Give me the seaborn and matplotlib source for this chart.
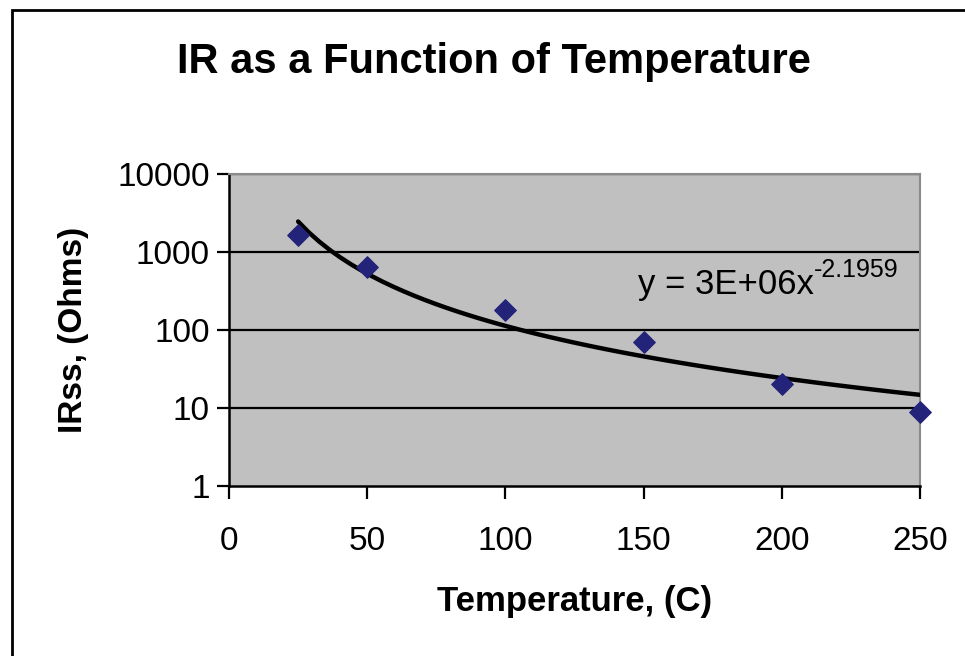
import numpy as np
import pandas as pd
import matplotlib
matplotlib.use("Agg")
import matplotlib.pyplot as plt
import seaborn as sns
from matplotlib.patches import Rectangle

# dados
temperatura = [25, 50, 100, 150, 200, 250]
irss = [1650, 640, 180, 70, 20.5, 8.8]
x_ticks = [0, 50, 100, 150, 200, 250]
y_ticks = [1, 10, 100, 1000, 10000]
y_tick_labels = ["1", "10", "100", "1000", "10000"]
equacao = "y = 3E+06x"
expoente = "-2.1959"

dados = pd.DataFrame({"temp": temperatura, "irss": irss})

# linha de tendência (potência) ajustada em escala log-log
b, ln_a = np.polyfit(np.log(dados["temp"]), np.log(dados["irss"]), 1)
x_fit = np.linspace(min(temperatura), max(temperatura), 60)
tendencia = pd.DataFrame({"temp": x_fit, "irss": np.exp(ln_a) * x_fit ** b})

sns.set_style("white")
plt.rcParams["font.family"] = ["Liberation Sans", "DejaVu Sans"]
plt.rcParams["text.color"] = "black"
plt.rcParams["xtick.color"] = "black"
plt.rcParams["ytick.color"] = "black"
plt.rcParams["axes.labelcolor"] = "black"

fig = plt.figure(figsize=(9.65, 6.56), dpi=100)
ax = fig.add_axes([0.2373, 0.2591, 0.9534 - 0.2373, 0.7348 - 0.2591])
ax.set_facecolor("#c0c0c0")

ax.set_yscale("log")
ax.set_xlim(0, 250)
ax.set_ylim(1, 10000)

for v in y_ticks[1:]:
    ax.axhline(v, color="black", lw=1.6, zorder=1)

sns.lineplot(data=tendencia, x="temp", y="irss", color="black", lw=3.2,
             ax=ax, zorder=3)
sns.scatterplot(data=dados, x="temp", y="irss", marker="D", s=120,
                color="#23237a", edgecolor="#23237a", ax=ax, zorder=4,
                clip_on=False)

ax.set_xticks(x_ticks)
ax.set_xticklabels([str(t) for t in x_ticks])
ax.set_yticks(y_ticks)
ax.set_yticklabels(y_tick_labels)
ax.yaxis.set_minor_locator(matplotlib.ticker.NullLocator())
ax.tick_params(axis="both", direction="out", length=9, width=1.6,
               color="black", labelsize=24, bottom=True, left=True)
ax.tick_params(axis="x", pad=20)
ax.tick_params(axis="y", pad=5)

for lado in ["left", "bottom"]:
    ax.spines[lado].set_color("black")
    ax.spines[lado].set_linewidth(1.8)
for lado in ["top", "right"]:
    ax.spines[lado].set_color("#8a8a8a")
    ax.spines[lado].set_linewidth(1.5)

ax.set_xlabel("Temperature, (C)", fontsize=25, fontweight="bold", labelpad=20)
ax.set_ylabel("IRss, (Ohms)", fontsize=24, fontweight="bold", labelpad=20)

txt = ax.text(148, 290, equacao, fontsize=25, va="baseline", ha="left")
ax.annotate(expoente, xy=(1.0, 0.58), xycoords=txt, fontsize=18,
            va="bottom", ha="left")

fig.text(0.512, 0.905, "IR as a Function of Temperature", fontsize=30,
         fontweight="bold", ha="center", va="center")

# moldura externa do gráfico (cortada à direita e embaixo)
fig.patches.append(Rectangle((0.0125, -0.1), 1.2, 1.085, transform=fig.transFigure,
                             fill=False, edgecolor="black", lw=2))

fig.savefig("out.png", dpi=100)
